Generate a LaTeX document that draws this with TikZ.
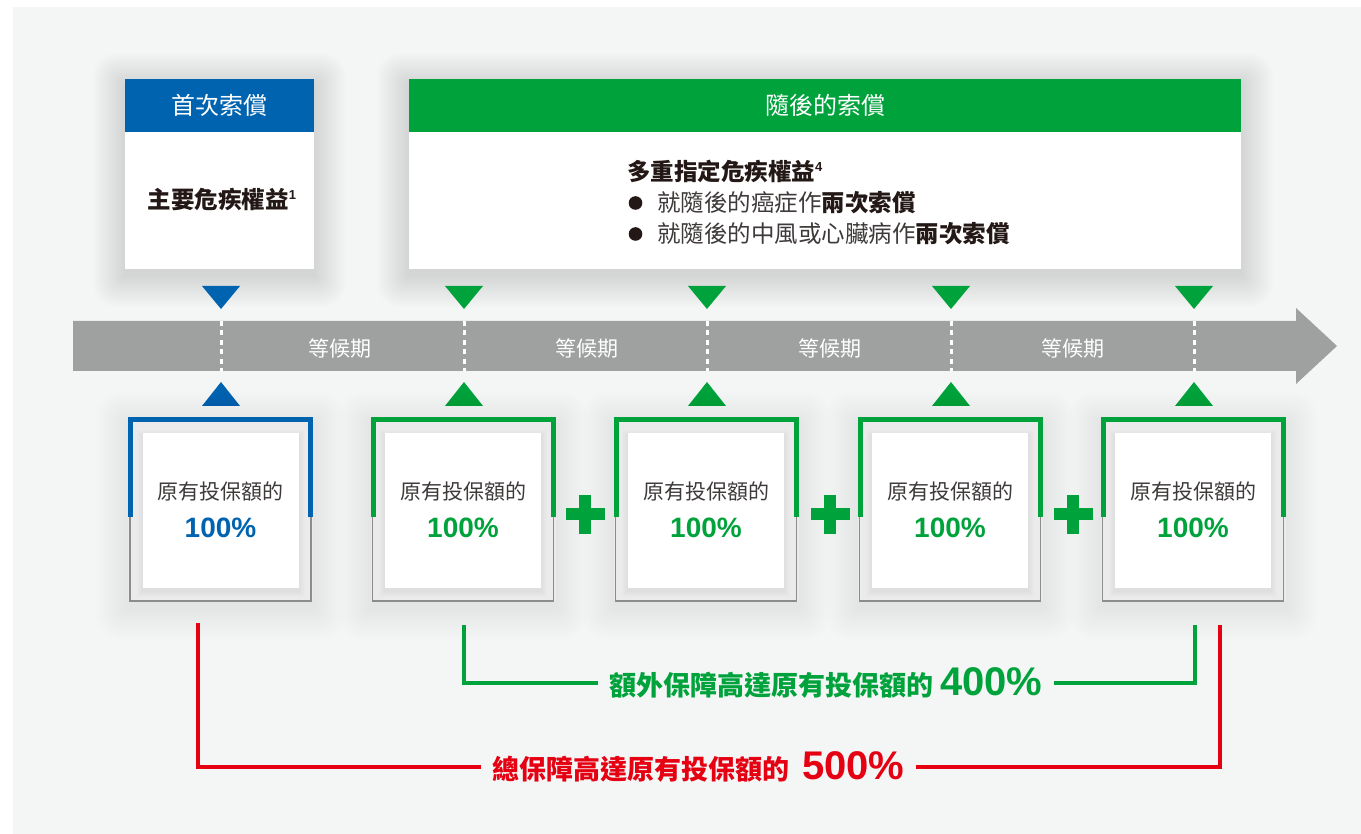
\documentclass[tikz,border=0pt]{standalone}
\usepackage{fontspec}
\setmainfont{Noto Sans CJK TC}
\newfontfamily\arial{Liberation Sans}
\definecolor{cblue}{HTML}{0063B0}
\definecolor{cgreen}{HTML}{00A23C}
\definecolor{cred}{HTML}{E50012}
\definecolor{bandc}{HTML}{9FA0A0}
\definecolor{panel}{HTML}{F4F5F5}
\definecolor{ink}{HTML}{231815}
\definecolor{soft}{HTML}{3E3A39}
\definecolor{frameg}{HTML}{8C8C8C}
\definecolor{fillg}{HTML}{EBEBEB}
\newcommand\fs[1]{\fontsize{#1}{#1}\selectfont}
\newcommand\supnum[1]{{\arial\bfseries\fontsize{13}{13}\selectfont\raisebox{9pt}{#1}}}
\newcommand\softshadow[5]{%
  \foreach \k in {1,...,16} {%
    \fill[black,opacity=#5,rounded corners=\k*1.5 pt] (#1-\k*2,#2-\k*2+6) rectangle (#3+\k*2,#4+\k*2+6);}}
\begin{document}
\begin{tikzpicture}[x=1pt,y=-1pt,
  hdr/.style={inner sep=0, text=white, font=\fs{24}},
  bodybox/.style={fill=white, inner sep=0},
  wait/.style={text=white, font=\fs{21}, inner sep=0},
  capt/.style={text=soft, font=\fs{21}, inner sep=0},
  pct/.style={font=\arial\bfseries\fs{28}, inner sep=0},
  brk/.style={line width=3.6pt},
  brklabel/.style={anchor=west, font=\fs{27}\bfseries, inner xsep=11pt, inner ysep=0},
  dashline/.style={white, line width=3pt, dash pattern=on 5pt off 4.5pt}
]
\useasboundingbox (0,0) rectangle (1361,834);
\fill[white] (0,0) rectangle (1361,834);
\fill[panel] (13,7) rectangle (1361,834);

% ---------- top boxes ----------
\softshadow{125}{79}{314}{269}{0.006}
\softshadow{409}{79}{1241}{269}{0.006}
\node[hdr, fill=cblue, minimum width=189pt, minimum height=53pt] (hA) at (219.5,105.5) {首次索償};
\node[bodybox, minimum width=189pt, minimum height=137pt] (bA) at (219.5,200.5) {};
\node[text=ink, font=\fs{23.5}\bfseries, inner sep=0] (tA) at (222,200) {主要危疾權益\supnum{1}};

\node[hdr, fill=cgreen, minimum width=832pt, minimum height=53pt] (hB) at (825,105.5) {隨後的索償};
\node[bodybox, minimum width=832pt, minimum height=137pt] (bB) at (825,200.5) {};
\node[anchor=west, text=ink, font=\fs{23.5}\bfseries, inner sep=0] (tB) at (627,171) {多重指定危疾權益\supnum{4}};
\fill[ink] (635.5,203) circle (6.8);
\fill[ink] (635.5,234) circle (6.8);
\node[anchor=west, text=soft, font=\fs{23.5}, inner sep=0] (l1) at (657,203) {就隨後的癌症作{\color{ink}\bfseries 兩次索償}};
\node[anchor=west, text=soft, font=\fs{23.5}, inner sep=0] (l2) at (657,234) {就隨後的中風或心臟病作{\color{ink}\bfseries 兩次索償}};

% ---------- time band ----------
\fill[bandc] (73,321) -- (1296,321) -- (1296,308) -- (1337,346) -- (1296,384) -- (1296,371) -- (73,371) -- cycle;

\foreach \i/\x/\c in {1/221/cblue,2/464/cgreen,3/707/cgreen,4/951/cgreen,5/1194/cgreen}{
  \fill[\c] (\x-19,286) -- (\x+19,286) -- (\x,309) -- cycle;
  \fill[\c] (\x,382) -- (\x+19,406) -- (\x-19,406) -- cycle;
  \coordinate (dt\i) at (\x,321);
  \coordinate (db\i) at (\x,371);
  \draw[dashline] (dt\i) -- (db\i);
}
\node[wait] (w1) at (340,348) {等候期};
\node[wait] (w2) at (587,348) {等候期};
\node[wait] (w3) at (830,348) {等候期};
\node[wait] (w4) at (1073,348) {等候期};

% ---------- bottom boxes ----------
\foreach \i/\x/\c in {1/220.5/cblue,2/463/cgreen,3/706/cgreen,4/950/cgreen,5/1193/cgreen}{
  \softshadow{\x-92.5}{418}{\x+92.5}{601}{0.005}
  \fill[fillg] (\x-92.5,418) rectangle (\x+92.5,601);
  \foreach \k in {1,...,6}{\fill[black,opacity=0.008] (\x-78-\k,433-\k+3) rectangle (\x+78+\k,588+\k+3);}
  \node[fill=white, minimum width=156pt, minimum height=155pt, inner sep=0] (box\i) at (\x,510.5) {};
  \node[capt] (cap\i) at (\x,492) {原有投保額的};
  \node[pct, text=\c] (pc\i) at (\x,528) {100\%};
  \draw[frameg, line width=1.6pt] (\x-90.5,515) -- (\x-90.5,601) -- (\x+90.5,601) -- (\x+90.5,515);
  \draw[\c, line width=5pt] (\x-90,517) -- (\x-90,420) -- (\x+90,420) -- (\x+90,517);
}

% plus signs
\foreach \x in {585,830,1073}{
  \fill[cgreen] (\x-19.5,508) rectangle (\x+19.5,520);
  \fill[cgreen] (\x-6,494.5) rectangle (\x+6,533.5);
}

% ---------- brackets ----------
\coordinate (g0) at (464,625);
\coordinate (g5) at (1195,625);
\node[brklabel, text=cgreen] (gl) at (598,683) {額外保障高達原有投保額的\hspace{7pt}{\arial\bfseries\fs{40}400\%}};
\draw[brk, cgreen] (g0) |- (gl.west);
\draw[brk, cgreen] (gl.east) -| (g5);

\coordinate (r0) at (198,623);
\coordinate (r5) at (1220,625);
\node[brklabel, text=cred] (rl) at (481,767) {總保障高達原有投保額的\hspace{13pt}{\arial\bfseries\fs{40}500\%}};
\draw[brk, cred, line width=4pt] (r0) |- (rl.west);
\draw[brk, cred, line width=4pt] (rl.east) -| (r5);
\end{tikzpicture}
\end{document}
